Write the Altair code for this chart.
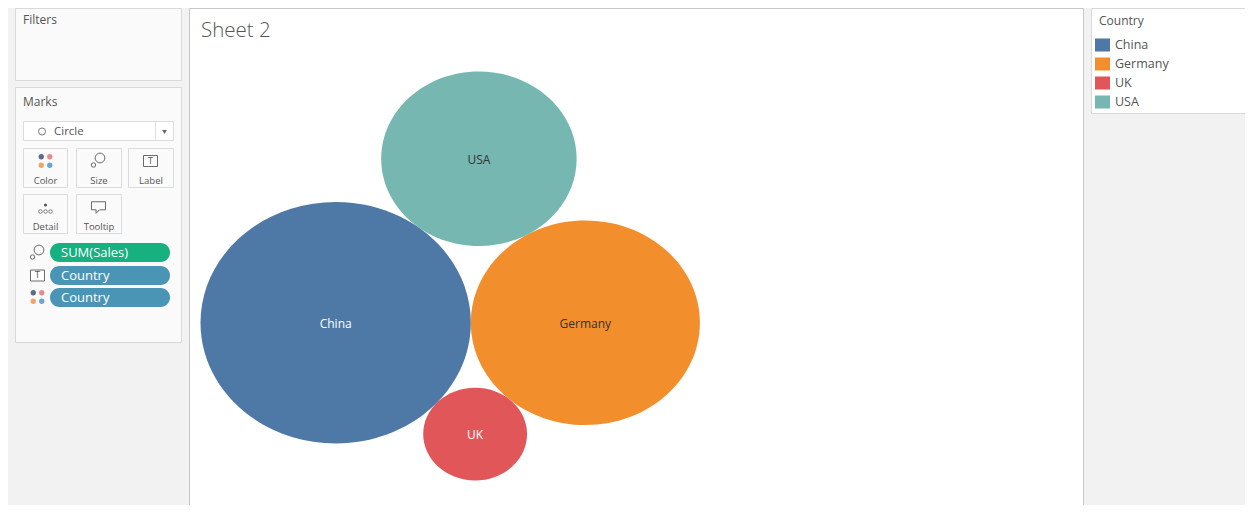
import math
import altair as alt
import pandas as pd

# ---------------- data ----------------
countries = ["China", "Germany", "UK", "USA"]
sales = [6770, 4860, 1000, 3540]
palette = ["#4e79a7", "#f28e2b", "#e15759", "#76b7b2"]

# ---------------- page geometry ----------------
W, H = 1237, 497          # whole chart (page minus 8px margins)
OFF = 8                   # screen -> chart offset
ASPECT = 1.12             # horizontal stretch of the Tableau view
FONT = "Open Sans"

# ---------------- packed-bubble layout (area ~ sales) ----------------
r = [math.sqrt(s) for s in sales]
order = sorted(range(len(countries)), key=lambda i: -sales[i])
pos = {}
a, b = order[0], order[1]
pos[a] = (0.0, 0.0)
pos[b] = (r[a] + r[b], 0.0)


def tangent(ia, ib, rc, side):
    (ax, ay), (bx, by) = pos[ia], pos[ib]
    d = math.hypot(bx - ax, by - ay)
    da, db = r[ia] + rc, r[ib] + rc
    t = (da * da - db * db + d * d) / (2 * d)
    h = math.sqrt(max(da * da - t * t, 0.0))
    ux, uy = (bx - ax) / d, (by - ay) / d
    return ax + t * ux - side * h * uy, ay + t * uy + side * h * ux


for k, i in enumerate(order[2:]):
    pos[i] = tangent(a, b, r[i], 1 if k % 2 == 0 else -1)

idx = range(len(countries))
top = max(pos[i][1] + r[i] for i in idx)
bottom = min(pos[i][1] - r[i] for i in idx)
left = min(pos[i][0] - r[i] for i in idx)

FIT_TOP, FIT_BOTTOM, FIT_LEFT = 71.5 - OFF, 480.5 - OFF, 200.5 - OFF
ky = (FIT_BOTTOM - FIT_TOP) / (top - bottom)
kx = ky * ASPECT
xlo = left - FIT_LEFT / kx
xhi = xlo + W / kx
yhi = top + FIT_TOP / ky
ylo = yhi - H / ky

df = pd.DataFrame({
    "Country": countries,
    "Sales": sales,
    "ux": [pos[i][0] for i in idx],
    "uy": [pos[i][1] for i in idx],
})


def lum(hexcol):
    h = hexcol.lstrip("#")
    rr, gg, bb = (int(h[j:j + 2], 16) for j in (0, 2, 4))
    return (0.299 * rr + 0.587 * gg + 0.114 * bb) / 255


dark = [c for c, col in zip(countries, palette) if lum(col) < 0.55]

e = 1 / ASPECT
kk = 0.5523
ELLIPSE = (f"M1,0C1,{kk*e:.4f} {kk},{e:.4f} 0,{e:.4f}"
           f"C{-kk},{e:.4f} -1,{kk*e:.4f} -1,0"
           f"C-1,{-kk*e:.4f} {-kk},{-e:.4f} 0,{-e:.4f}"
           f"C{kk},{-e:.4f} 1,{-kk*e:.4f} 1,0Z")
LEGEND_RECT = "M-1,-0.87H1V0.87H-1Z"

xs = alt.Scale(domain=[xlo, xhi], nice=False, zero=False)
ys = alt.Scale(domain=[ylo, yhi], nice=False, zero=False)
smax = max(sales)

bubbles = alt.Chart(df).mark_point(
    shape=ELLIPSE, filled=True, opacity=1, strokeWidth=0
).encode(
    x=alt.X("ux:Q", scale=xs, axis=None),
    y=alt.Y("uy:Q", scale=ys, axis=None),
    size=alt.Size("Sales:Q", scale=alt.Scale(type="linear", domain=[0, smax],
                                             range=[0, 4 * kx * kx * smax]),
                  legend=None),
    color=alt.Color("Country:N",
                    scale=alt.Scale(domain=countries, range=palette),
                    legend=alt.Legend(orient="none", legendX=1095 - OFF, legendY=37.5 - OFF,
                                      title=None, symbolType=LEGEND_RECT, symbolSize=225,
                                      symbolStrokeWidth=0, symbolOpacity=1,
                                      labelFont=FONT, labelFontSize=12.5, labelColor="#555555",
                                      labelOffset=5, rowPadding=4)),
    tooltip=["Country:N", "Sales:Q"],
)

labels = alt.Chart(df).mark_text(font=FONT, fontSize=12, baseline="middle", align="center", dy=1).encode(
    x=alt.X("ux:Q", scale=xs, axis=None),
    y=alt.Y("uy:Q", scale=ys, axis=None),
    text="Country:N",
    color=alt.condition(alt.FieldOneOfPredicate(field="Country", oneOf=dark),
                        alt.value("#ffffff"), alt.value("#333333")),
)

# ---------------- Tableau window chrome ----------------
ONE = pd.DataFrame({"k": [0]})
TOP = OFF + 0.5   # panels start at the top of the drawable page


def box(x0, y0, x1, y1, fill, stroke=None, sw=1, radius=0):
    kw = dict(fill=fill, strokeWidth=sw if stroke else 0)
    if stroke:
        kw["stroke"] = stroke
    if radius:
        kw["cornerRadius"] = radius
    return alt.Chart(ONE).mark_rect(**kw).encode(
        x=alt.value(x0 - OFF), x2=alt.value(x1 - OFF),
        y=alt.value(y0 - OFF), y2=alt.value(y1 - OFF))


def txt(s, x, y, size=12, color="#555555", align="left", font=FONT, weight="normal"):
    return alt.Chart(ONE).mark_text(text=s, fontSize=size, color=color, align=align,
                                    baseline="middle", font=font, fontWeight=weight).encode(
        x=alt.value(x - OFF), y=alt.value(y - OFF))


def sym(x, y, size, color, shape="circle", filled=True, sw=1):
    kw = dict(shape=shape, size=size, filled=filled, color=color, opacity=1)
    kw["strokeWidth"] = 0 if filled else sw
    return alt.Chart(ONE).mark_point(**kw).encode(x=alt.value(x - OFF), y=alt.value(y - OFF))


def dots4(cx, cy, step=8.5, d=6):
    cols = ["#5b6a8e", "#e8898b", "#f0a46a", "#6fa3d2"]
    pts = [(cx - step / 2, cy - step / 2), (cx + step / 2, cy - step / 2),
           (cx - step / 2, cy + step / 2), (cx + step / 2, cy + step / 2)]
    return [sym(px, py, math.pi * d * d / 4, c) for (px, py), c in zip(pts, cols)]


def lasso(cx, cy):
    return [sym(cx + 2, cy - 2, math.pi * 11 * 11 / 4, "#6b6b6b", filled=False),
            sym(cx - 4.5, cy + 5, math.pi * 5 * 5 / 4, "#6b6b6b", filled=False)]


def tbox(cx, cy):
    return [box(cx - 7, cy - 5.5, cx + 7, cy + 5.5, "#ffffff", "#6b6b6b"),
            txt("T", cx, cy + 0.5, size=8, color="#555555", align="center", font="DejaVu Sans")]


BUBBLE = "M-1,-0.75H1V0.4H0.15L-0.35,0.9V0.4H-1Z"
PANEL = "#fafafa"
PANEL_STROKE = "#d9d9d9"
BTN_STROKE = "#dcdcdc"

chrome = [
    # panels
    box(15.5, TOP, 181.5, 80.5, PANEL, PANEL_STROKE),
    box(15.5, 87.5, 181.5, 342.5, PANEL, PANEL_STROKE),
    box(189.5, TOP, 1083.5, 507.5, "#ffffff", "#c8c8c8"),
    box(1091.5, TOP, 1262, 113.5, "#ffffff", PANEL_STROKE),
    txt("Filters", 23, 20),
    txt("Marks", 23, 102),
    # mark type dropdown
    box(23.5, 121.5, 173.5, 140.5, "#ffffff", BTN_STROKE),
    box(155, 122, 156, 140, "#e0e0e0"),
    sym(42, 131.5, math.pi * 8 * 8 / 4, "#777777", filled=False),
    txt("Circle", 54, 131.5, size=11.5),
    sym(164.5, 132, 22, "#666666", shape="triangle-down"),
    # buttons
    box(23.5, 148.5, 67.5, 187.5, PANEL, BTN_STROKE),
    box(76.5, 148.5, 121.5, 187.5, PANEL, BTN_STROKE),
    box(128.5, 148.5, 173.5, 187.5, PANEL, BTN_STROKE),
    box(23.5, 194.5, 67.5, 233.5, PANEL, BTN_STROKE),
    box(76.5, 194.5, 121.5, 233.5, PANEL, BTN_STROKE),
    txt("Color", 45.5, 180.5, size=9.5, align="center"),
    txt("Size", 99, 180.5, size=9.5, align="center"),
    txt("Label", 151, 180.5, size=9.5, align="center"),
    txt("Detail", 45.5, 226.5, size=9.5, align="center"),
    txt("Tooltip", 99, 226.5, size=9.5, align="center"),
    *dots4(45.5, 161),
    *lasso(98, 160),
    *tbox(150.5, 161),
    sym(45.5, 205, math.pi * 3.5 * 3.5 / 4, "#555555"),
    sym(40.5, 211.5, math.pi * 4 * 4 / 4, "#666666", filled=False, sw=0.8),
    sym(45.5, 211.5, math.pi * 4 * 4 / 4, "#666666", filled=False, sw=0.8),
    sym(50.5, 211.5, math.pi * 4 * 4 / 4, "#666666", filled=False, sw=0.8),
    sym(98.5, 207, 14 * 14, "#6b6b6b", shape=BUBBLE, filled=False),
    # shelf pills
    box(50, 243, 170, 262, "#17b07f", radius=9.5),
    box(50, 266, 170, 285, "#4a95b6", radius=9.5),
    box(50, 288, 170, 307, "#4a95b6", radius=9.5),
    txt("SUM(Sales)", 61, 252.5, size=13, color="#ffffff"),
    txt("Country", 61, 275.5, size=13, color="#ffffff"),
    txt("Country", 61, 297.5, size=13, color="#ffffff"),
    *lasso(37, 252),
    *tbox(37.5, 275.5),
    *dots4(37.5, 297),
    # sheet title & legend header
    txt("Sheet 2", 201, 30.5, size=20.5, color="#555555", weight=300),
    txt("Country", 1099, 20.5, size=12, color="#555555"),
]

chart = alt.layer(*chrome, bubbles, labels).properties(
    width=W, height=H, padding=0, background="#f2f2f2",
    autosize=alt.AutoSizeParams(type="none"),
).configure_view(stroke=None)

chart.save("out.html", embed_options={"renderer": "svg", "actions": False})
